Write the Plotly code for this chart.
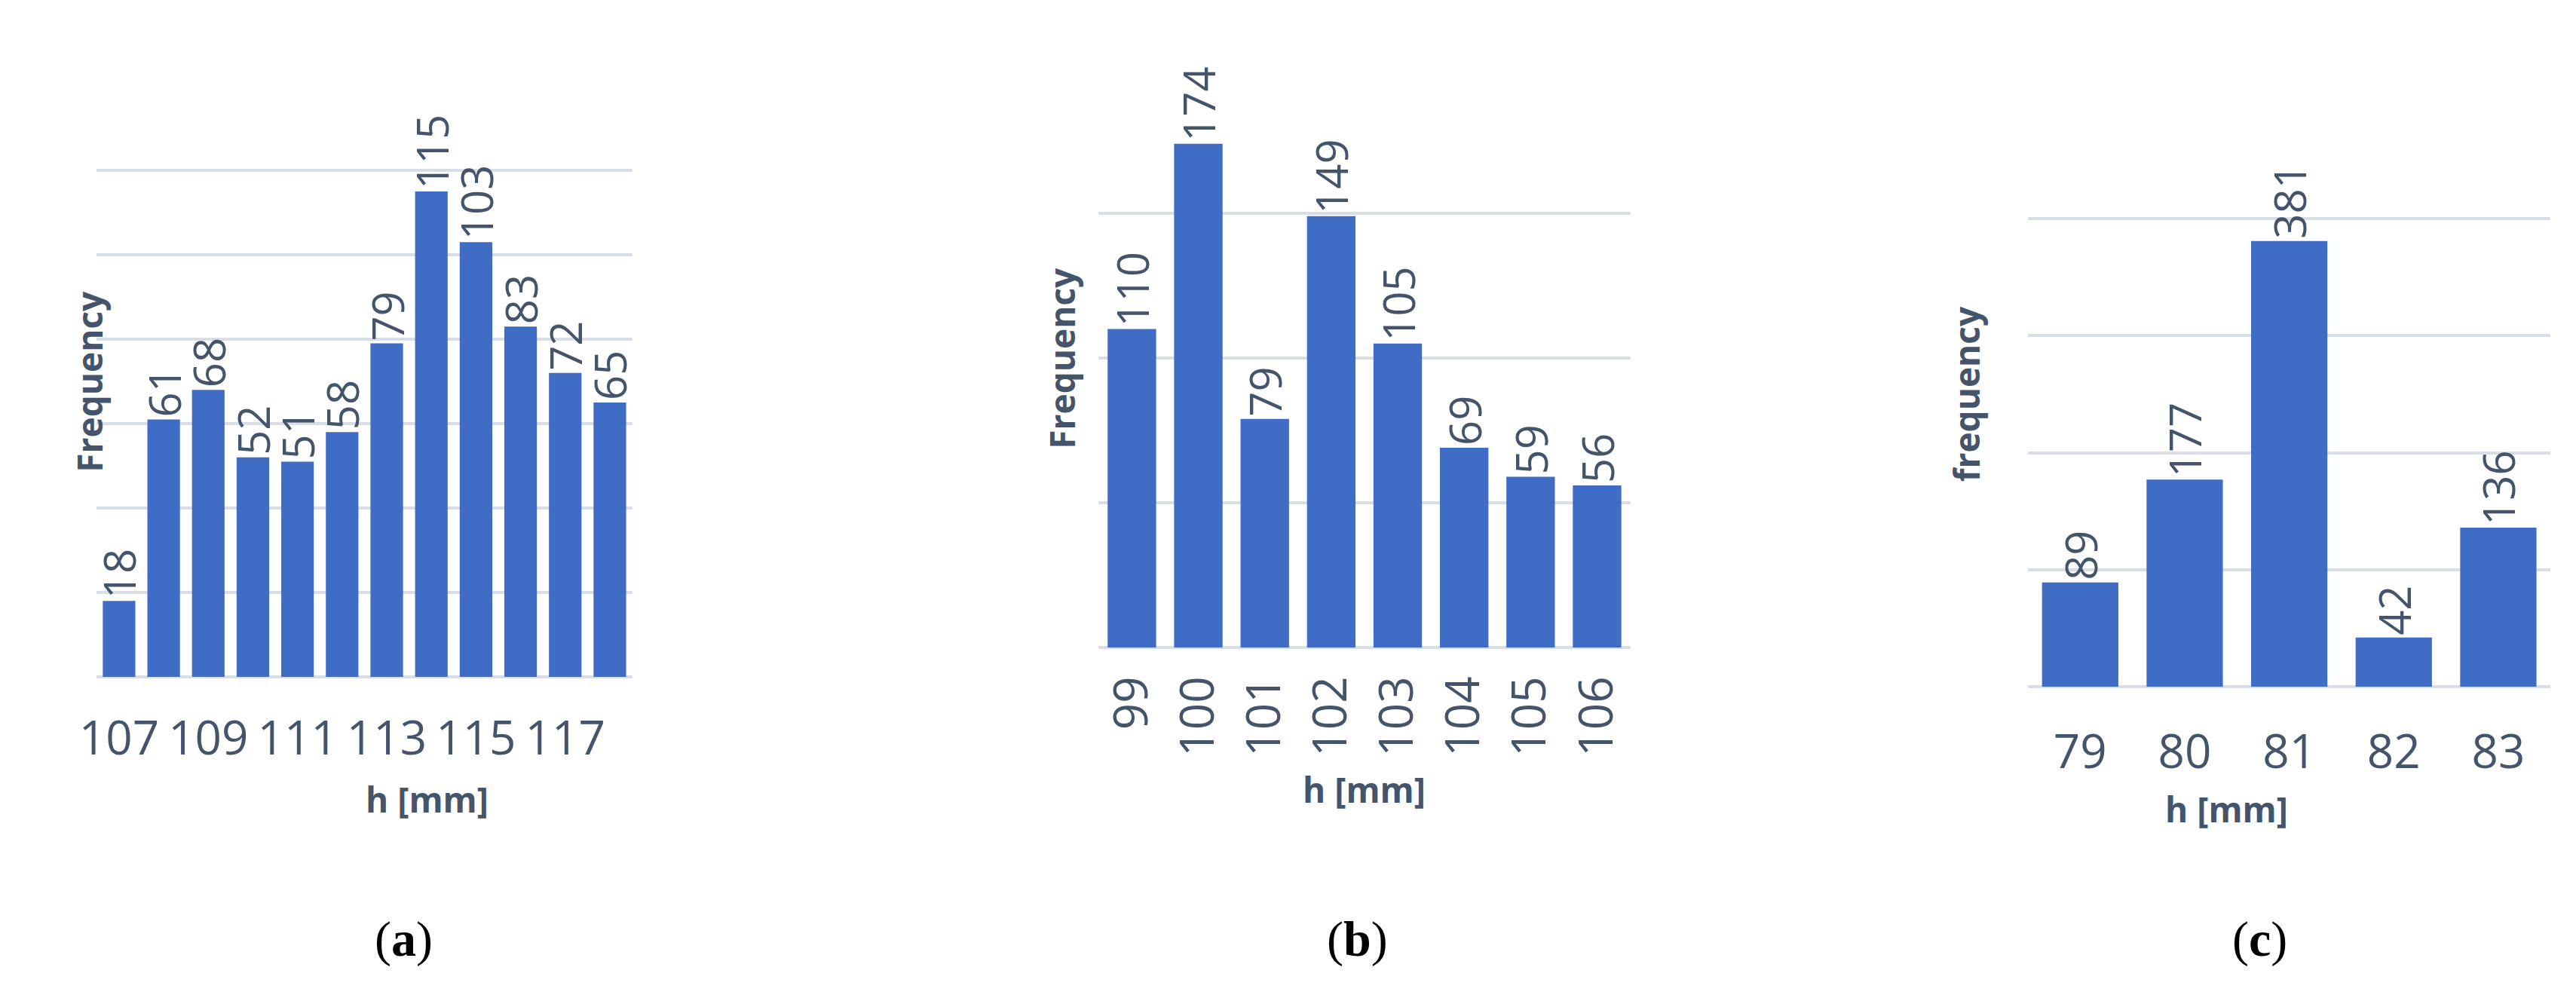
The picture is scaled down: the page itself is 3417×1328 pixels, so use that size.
import plotly.graph_objects as go

W, H = 3417, 1328

cats_a = [str(v) for v in range(107, 119)]
vals_a = [18, 61, 68, 52, 51, 58, 79, 115, 103, 83, 72, 65]
ticks_a = ["107", "109", "111", "113", "115", "117"]

cats_b = [str(v) for v in range(99, 107)]
vals_b = [110, 174, 79, 149, 105, 69, 59, 56]

cats_c = ["79", "80", "81", "82", "83"]
vals_c = [89, 177, 381, 42, 136]

BAR = "#3f6cc4"
TXT = "#44546A"
GRID = "#D9DDE5"
FONT = "Open Sans"

panels = [
    (cats_a, vals_a, (98, 813), (106, 890), 140, 20, "Frequency", 0, ticks_a, 1085, 54, "(a)", 467, 40),
    (cats_b, vals_b, (1436, 2146), (83, 851), 200, 50, "Frequency", -90, cats_b, 1072, 1386, "(b)", 1781, 25),
    (cats_c, vals_c, (2677, 3375), (127, 903), 500, 100, "frequency", 0, cats_c, 1098, 2628, "(c)", 3025, 45),
]

fig = go.Figure()
ann = []
for i, (cats, vals, xd, yd, ymax, dt, yt, ta, tv, ty, ytx, lab, labx, stand) in enumerate(panels):
    n = "" if i == 0 else str(i + 1)
    fig.add_trace(go.Bar(
        x=cats, y=vals, xaxis="x" + n, yaxis="y" + n,
        marker=dict(color=BAR, line=dict(width=0)),
        text=[str(v) for v in vals], textposition="outside", textangle=-90,
        constraintext="none",
        textfont=dict(family=FONT, size=58, color=TXT), cliponaxis=False,
        showlegend=False,
    ))
    fig.layout["xaxis" + n] = dict(
        domain=[xd[0] / W, xd[1] / W], anchor="y" + n, type="category",
        tickmode="array", tickvals=tv, ticktext=tv, tickangle=ta,
        tickfont=dict(family=FONT, size=62, color=TXT),
        showgrid=False, showline=False, ticks="", ticklen=0,
        ticklabelstandoff=stand,
    )
    fig.layout["yaxis" + n] = dict(
        domain=[1 - yd[1] / H, 1 - yd[0] / H], anchor="x" + n,
        range=[0, ymax], dtick=dt, showticklabels=False,
        showgrid=True, gridcolor=GRID, gridwidth=4,
        zeroline=True, zerolinecolor=GRID, zerolinewidth=4, showline=False,
    )
    ann.append(dict(text="<b>h [mm]</b>", x=(xd[0] + xd[1]) / 2 / W, y=1 - ty / H,
                    xref="paper", yref="paper", showarrow=False,
                    font=dict(family=FONT, size=46, color=TXT)))
    ann.append(dict(text="<b>" + yt + "</b>", x=ytx / W, y=1 - (yd[0] + yd[1]) / 2 / H,
                    xref="paper", yref="paper", showarrow=False, textangle=-90,
                    font=dict(family=FONT, size=46, color=TXT)))
    ann.append(dict(text="(<b>" + lab[1] + "</b>)", x=labx / W, y=1 - 1277 / H,
                    xref="paper", yref="paper", showarrow=False,
                    font=dict(family="Liberation Serif", size=66, color="black")))

fig.update_layout(width=W, height=H, margin=dict(l=0, r=0, t=0, b=0),
                  plot_bgcolor="white", paper_bgcolor="white",
                  bargap=0.27, annotations=ann)
fig.write_html("out.html")
